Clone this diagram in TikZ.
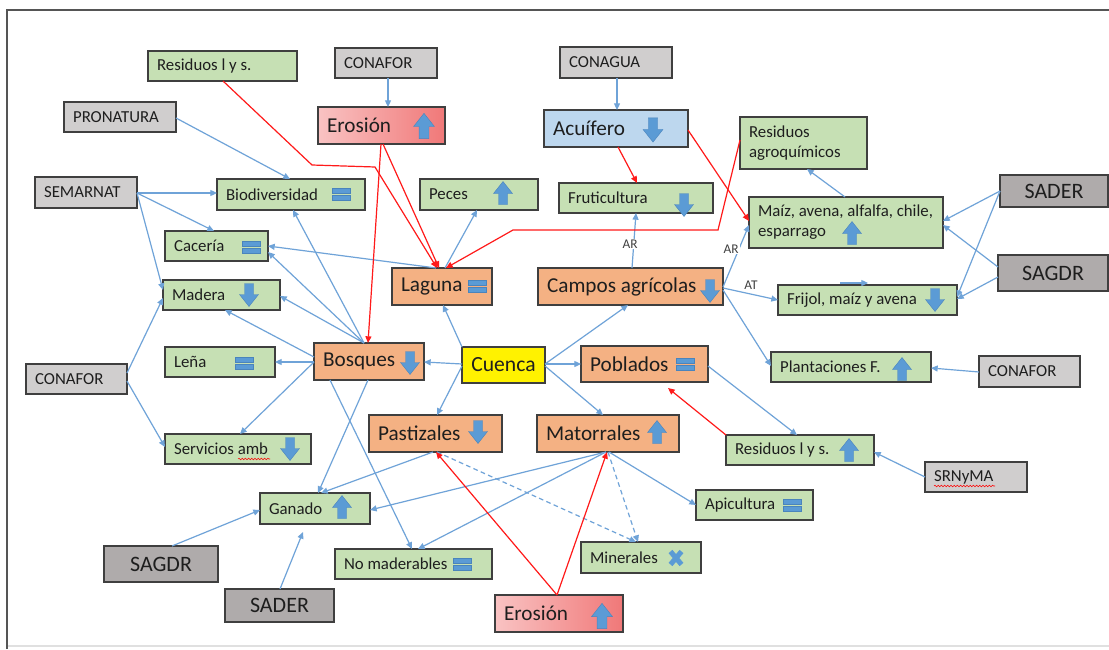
\documentclass[tikz,border=0pt]{standalone}
\usepackage{fontspec}
\setmainfont{Carlito}
\usetikzlibrary{arrows.meta,decorations.pathmorphing}
\definecolor{gfill}{HTML}{C6E0B4}
\definecolor{lgray}{HTML}{D0CECE}
\definecolor{dgray}{HTML}{AFABAB}
\definecolor{ofill}{HTML}{F4B183}
\definecolor{bfill}{HTML}{BDD7EE}
\definecolor{bordc}{HTML}{3F3F3F}
\definecolor{ered1}{HTML}{F9C3C3}
\definecolor{ered2}{HTML}{F07878}
\definecolor{icon}{HTML}{5B9BD5}
\definecolor{icondark}{HTML}{4A84BC}
\definecolor{lineb}{HTML}{6FA3D8}
\definecolor{liner}{HTML}{FF1A1A}
\definecolor{txt}{HTML}{1E1E1E}
\definecolor{framec}{HTML}{555555}
\tikzset{
  box/.style={draw=bordc, line width=0.9pt, inner sep=0pt, outer sep=0pt},
  gbox/.style={box, fill=gfill},
  lgbox/.style={box, fill=lgray},
  dgbox/.style={box, fill=dgray, text=txt, font=\fontsize{16.5}{19}\selectfont},
  obox/.style={box, fill=ofill},
  bbox/.style={box, fill=bfill},
  ybox/.style={box, fill=yellow, text=txt, font=\fontsize{16.2}{19}\selectfont},
  rbox/.style={box, left color=ered1, right color=ered2},
  small/.style={font=\fontsize{12.6}{15}\selectfont},
  large/.style={font=\fontsize{15.9}{18.5}\selectfont},
  lbl/.style={inner sep=0pt, text=txt, align=left},
  albl/.style={fill=white, inner sep=0.8pt, text=txt!85, font=\fontsize{10}{12}\selectfont},
  bl/.style={draw=lineb, line width=0.9pt, -{Triangle[length=5pt,width=4.5pt]}},
  rl/.style={draw=liner, line width=0.9pt, -{Triangle[length=5pt,width=4.5pt]}},
  dsh/.style={dash pattern=on 3.5pt off 2.5pt},
  wavy/.style={draw=red, line width=0.4pt, decorate, decoration={snake, amplitude=0.6pt, segment length=2.4pt}},
  upar/.pic={\filldraw[fill=icon,draw=icondark,line width=0.3pt] (-4.5,11.5) -- (-4.5,0.5) -- (-9.5,0.5) -- (0,-11.5) -- (9.5,0.5) -- (4.5,0.5) -- (4.5,11.5) -- cycle;},
  dnar/.pic={\filldraw[fill=icon,draw=icondark,line width=0.3pt] (-4.5,-11.5) -- (-4.5,-0.5) -- (-9.5,-0.5) -- (0,11.5) -- (9.5,-0.5) -- (4.5,-0.5) -- (4.5,-11.5) -- cycle;},
  eqic/.pic={\filldraw[fill=icon,draw=icondark,line width=0.3pt] (-9,-6) rectangle (9,-1) (-9,1) rectangle (9,6);},
  xic/.pic={\draw[icon, line width=3.8pt] (-5.5,-6.5) -- (5.5,6.5) (-5.5,6.5) -- (5.5,-6.5);},
}
% box with left-aligned label: name, x1, y1, x2, y2, box style, font style, text
\newcommand\bx[8]{%
  \pgfmathsetmacro\cx{(#2+#4)/2}\pgfmathsetmacro\cy{(#3+#5)/2}%
  \pgfmathsetmacro\ww{(#4-#2)*0.75}\pgfmathsetmacro\hh{(#5-#3)*0.75}%
  \node[#6, minimum width=\ww pt, minimum height=\hh pt] (#1) at (\cx,\cy) {};
  \node[lbl, #7, anchor=west] (#1-t) at ([xshift=6.6pt]#1.west) {#8};
}
% box with centred label: name, x1, y1, x2, y2, style, text
\newcommand\cbx[7]{%
  \pgfmathsetmacro\cx{(#2+#4)/2}\pgfmathsetmacro\cy{(#3+#5)/2}%
  \pgfmathsetmacro\ww{(#4-#2)*0.75}\pgfmathsetmacro\hh{(#5-#3)*0.75}%
  \node[#6, minimum width=\ww pt, minimum height=\hh pt] (#1) at (\cx,\cy) {#7};
}
\begin{document}
\begin{tikzpicture}[x=0.75pt, y=-0.75pt]
\useasboundingbox (0,0) rectangle (1109,649);
\fill[white] (0,0) rectangle (1109,649);
\draw[black!12, line width=0.8pt] (7,646) -- (1109,646);
\draw[framec, line width=1.2pt] (7,649) -- (7,10) -- (1109,10);

% ---------- boxes ----------
\bx{resA}{148}{51}{297}{81}{gbox}{small}{Residuos l y s.}
\bx{conaforT}{335}{48}{437}{78}{lgbox}{small}{CONAFOR}
\bx{pronatura}{64}{102}{176}{132}{lgbox}{small}{PRONATURA}
\bx{erosT}{318}{107}{445}{144}{rbox}{large}{Erosión}
\bx{conagua}{560}{47}{672}{78}{lgbox}{small}{CONAGUA}
\bx{acuifero}{544}{110}{688}{147}{bbox}{large}{Acuífero}
\bx{resAgro}{740}{117}{867}{169}{gbox}{small}{Residuos\\agroquímicos}
\bx{semarnat}{35}{177}{137}{208}{lgbox}{small}{SEMARNAT}
\bx{biodiv}{217}{179}{365}{210}{gbox}{small}{Biodiversidad}
\bx{peces}{420}{179}{538}{210}{gbox}{small}{Peces}
\bx{fruti}{559}{183}{713}{213}{gbox}{small}{Fruticultura}
\bx{maiz}{749}{197}{943}{248}{gbox}{small}{Maíz, avena, alfalfa, chile,\\esparrago}
\cbx{saderR}{1000}{175}{1108}{207}{dgbox}{SADER}
\bx{caceria}{165}{231}{268}{261}{gbox}{small}{Cacería}
\bx{laguna}{392}{268}{492}{305}{obox}{large}{Laguna}
\bx{campos}{538}{268}{723}{305}{obox}{large}{Campos agrícolas}
\cbx{sagdrR}{998}{255}{1108}{291}{dgbox}{SAGDR}
\bx{frijol}{778}{285}{957}{315}{gbox}{small}{Frijol, maíz y avena}
\bx{madera}{163}{280}{280}{310}{gbox}{small}{Madera}
\bx{bosques}{314}{343}{424}{380}{obox}{large}{Bosques}
\cbx{cuenca}{462}{347}{545}{383}{ybox}{Cuenca}
\bx{poblados}{581}{346}{708}{382}{obox}{large}{Poblados}
\bx{lena}{165}{347}{275}{377}{gbox}{small}{Leña}
\bx{conaforL}{26}{364}{127}{394}{lgbox}{small}{CONAFOR}
\bx{plant}{771}{352}{931}{382}{gbox}{small}{Plantaciones F.}
\bx{conaforR}{979}{356}{1080}{387}{lgbox}{small}{CONAFOR}
\bx{pastiz}{369}{415}{502}{452}{obox}{large}{Pastizales}
\bx{mator}{537}{415}{679}{452}{obox}{large}{Matorrales}
\bx{serv}{165}{434}{311}{464}{gbox}{small}{Servicios amb}
\bx{resR}{726}{435}{874}{465}{gbox}{small}{Residuos l y s.}
\bx{srnyma}{925}{462}{1027}{492}{lgbox}{small}{SRNyMA}
\bx{ganado}{260}{493}{370}{524}{gbox}{small}{Ganado}
\bx{apic}{696}{490}{813}{520}{gbox}{small}{Apicultura}
\cbx{sagdrL}{104}{546}{218}{582}{dgbox}{SAGDR}
\bx{nomad}{335}{549}{492}{579}{gbox}{small}{No maderables}
\bx{minerales}{581}{542}{701}{573}{gbox}{small}{Minerales}
\cbx{saderL}{225}{589}{334}{622}{dgbox}{SADER}
\bx{erosB}{495}{595}{623}{632}{rbox}{large}{Erosión}

% spell-check underlines
\draw[wavy] (238,459) -- (270,459);
\draw[wavy] (934,486) -- (995,486);

% ---------- icons ----------
\pic[scale=1.1] at (424,126) {upar};
\pic[scale=1.05] at (653,130) {dnar};
\pic at (503,193) {upar};
\pic at (684,205) {dnar};
\pic at (852,233) {upar};
\pic at (341,194) {eqic};
\pic at (251,247) {eqic};
\pic at (249,295) {dnar};
\pic at (244,363) {eqic};
\pic at (290,449) {dnar};
\pic at (477,286) {eqic};
\pic at (710,291) {dnar};
\pic at (410,363) {dnar};
\pic at (685,364) {eqic};
\pic at (478,432) {dnar};
\pic at (657,432) {upar};
\pic at (935,300) {dnar};
\pic at (902,369) {upar};
\pic at (849,450) {upar};
\pic at (342,507) {upar};
\pic at (792,505) {eqic};
\pic at (462,564) {eqic};
\pic at (676,558) {xic};
\pic[scale=1.1] at (602,616) {upar};

% ---------- blue connectors ----------
\draw[bl] (conaforT.south -| 388,0) -- (erosT.north -| 388,0);
\draw[bl] (conagua.south -| 617,0) -- (acuifero.north -| 617,0);
\draw[bl] (pronatura.east |- 0,118) -- (biodiv.north -| 290,0);
\draw[bl] (semarnat.east |- 0,193) -- (biodiv.west |- 0,193);
\draw[bl] (semarnat.east |- 0,193) -- (caceria.north -| 214,0);
\draw[bl] (semarnat.east |- 0,193) -- (madera.west |- 0,290);
\draw[bl] (conaforL.east |- 0,373) -- (madera.west |- 0,298);
\draw[bl] (conaforL.east |- 0,381) -- (serv.west |- 0,447);
\draw[bl] (bosques.north -| 364,0) -- (biodiv.south -| 293,0);
\draw[bl] (bosques.north -| 364,0) -- (caceria.east |- 0,252);
\draw[bl] (bosques.north -| 364,0) -- (madera.east |- 0,296);
\draw[bl] (bosques.west |- 0,357) -- (madera.south -| 225,0);
\draw[bl] (bosques.west |- 0,362) -- (lena.east |- 0,362);
\draw[bl] (bosques.west |- 0,362) -- (serv.north -| 240,0);
\draw[bl] (bosques.south -| 330,0) -- (nomad.north -| 412,0);
\draw[bl] (bosques.south -| 368,0) -- (ganado.north -| 318,0);
\draw[bl] (cuenca.west |- 0,364) -- (bosques.east |- 0,362);
\draw[bl] (cuenca.north west) -- (laguna.south -| 443,0);
\draw[bl] (cuenca.east |- 0,364) -- (campos.south -| 628,0);
\draw[bl] (cuenca.east |- 0,364) -- (poblados.west |- 0,364);
\draw[bl] (cuenca.west |- 0,366) -- (pastiz.north -| 437,0);
\draw[bl] (cuenca.east |- 0,366) -- (mator.north -| 603,0);
\draw[bl] (laguna.north -| 445,0) -- (peces.south -| 477,0);
\draw[bl] (laguna.north -| 436,0) -- (caceria.east |- 0,246);
\draw[bl] (campos.north -| 632,0) -- (fruti.south -| 636,0);
\draw[bl] (campos.east |- 0,287) -- (maiz.west |- 0,225);
\draw[bl] (campos.east |- 0,288) -- (frijol.west |- 0,300);
\draw[bl] (campos.east |- 0,290) -- (plant.west |- 0,366);
\draw[bl] (maiz.north -| 845,0) -- (resAgro.south -| 807,0);
\draw[bl] (saderR.west |- 0,191) -- (maiz.east |- 0,221);
\draw[bl] (saderR.west |- 0,191) -- (frijol.east |- 0,297);
\draw[bl] (sagdrR.west |- 0,267) -- (maiz.east |- 0,225);
\draw[bl] (sagdrR.west |- 0,277) -- (frijol.east |- 0,299);
\draw[bl] (conaforR.west |- 0,372) -- (plant.east |- 0,368);
\draw[bl] (poblados.east |- 0,366) -- (resR.north -| 797,0);
\draw[bl] (srnyma.west |- 0,477) -- (resR.east |- 0,452);
\draw[bl] (pastiz.south -| 433,0) -- (ganado.north -| 321,0);
\draw[bl] (mator.south -| 606,0) -- (ganado.east |- 0,510);
\draw[bl] (mator.south -| 606,0) -- (nomad.north -| 418,0);
\draw[bl,dsh] (mator.south -| 608,0) -- (minerales.north -| 638,0);
\draw[bl,dsh] (pastiz.south -| 437,0) -- (minerales.north -| 636,0);
\draw[bl] (mator.south -| 609,0) -- (apic.west |- 0,505);
\draw[bl] (sagdrL.north -| 172,0) -- (ganado.west |- 0,510);
\coordinate (gEnd) at (303,532);
\draw[bl] (saderL.north -| 280,0) -- (gEnd);
\coordinate (s1) at (840,283);
\coordinate (s2) at (868,283);
\draw[bl] (s1) -- (s2);

% ---------- red connectors ----------
\coordinate (rA1) at (312,165);
\coordinate (rA2) at (375,167);
\draw[rl] (resA.south -| 223,0) -- (rA1) -- (rA2) -- (laguna.north -| 437,0);
\draw[rl] (erosT.south -| 383,0) -- (laguna.north -| 439,0);
\draw[rl] (erosT.south -| 381,0) -- (bosques.north -| 368,0);
\coordinate (rB1) at (718,230);
\coordinate (rB2) at (513,230);
\draw[rl] (resAgro.west |- 0,140) -- (rB1) -- (rB2) -- (laguna.north -| 446,0);
\draw[rl] (acuifero.south -| 618,0) -- (fruti.north -| 637,0);
\draw[rl] (acuifero.east |- 0,130) -- (maiz.west |- 0,221);
\coordinate (pEnd) at (668,388);
\draw[rl] (resR.north west) -- (pEnd);
\draw[rl] (erosB.north -| 557,0) -- (pastiz.south -| 436,0);
\draw[rl] (erosB.north -| 557,0) -- (mator.south -| 607,0);

% ---------- edge labels ----------
\node[albl] (ar1) at (630,244) {AR};
\node[albl] (ar2) at (731,249) {AR};
\node[albl, fill=none] (at1) at (751,285) {AT};
\end{tikzpicture}
\end{document}
